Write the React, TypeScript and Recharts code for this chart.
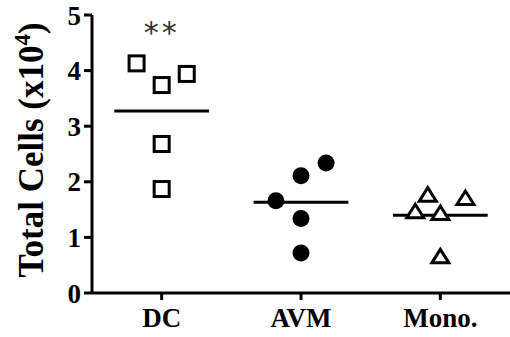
import React from 'react'
import { ScatterChart, Scatter, XAxis, YAxis, ReferenceLine, ReferenceDot, Label } from 'recharts';

const categories = ['DC', 'AVM', 'Mono.'];
const dcValues = [4.13, 3.74, 3.94, 2.68, 1.87];
const dcJitter = [-0.18, 0, 0.18, 0, 0];
const avmValues = [2.34, 2.11, 1.66, 1.34, 0.72];
const avmJitter = [0.18, 0, -0.18, 0, 0];
const monoValues = [1.76, 1.70, 1.46, 1.43, 0.65];
const monoJitter = [-0.09, 0.18, -0.18, 0, 0];
const yTicks = [0, 1, 2, 3, 4, 5];

const toPoints = (idx: number, values: number[], jitter: number[]) =>
    values.map((v, i) => ({ x: idx + 0.5 + jitter[i], y: v }));
const mean = (arr: number[]) => arr.reduce((a, b) => a + b, 0) / arr.length;

const dcData = toPoints(0, dcValues, dcJitter);
const avmData = toPoints(1, avmValues, avmJitter);
const monoData = toPoints(2, monoValues, monoJitter);
const groups = [dcValues, avmValues, monoValues];

const SERIF = 'Liberation Serif';

const Square = (p: any) => (
    <rect x={p.cx - 7.5} y={p.cy - 7.5} width={15} height={15} fill="#fff" stroke="#000" strokeWidth={3} />
);
const Dot = (p: any) => <circle cx={p.cx} cy={p.cy} r={8.5} fill="#000" />;
const Tri = (p: any) => (
    <path
        d={`M${p.cx},${p.cy - 7.5} L${p.cx + 8.5},${p.cy + 6} L${p.cx - 8.5},${p.cy + 6} Z`}
        fill="#fff" stroke="#000" strokeWidth={3} strokeLinejoin="miter"
    />
);
const Stars = (p: any) => (
    <text x={p.cx} y={p.cy} dy="0.6em" textAnchor="middle" fontFamily="DejaVu Sans"
        fontSize={30} letterSpacing={3} fill="#333">**</text>
);

const YLabel = (props: any) => {
    const vb = props.viewBox;
    const x = 43;
    const y = vb.y + vb.height / 2 - 4;
    return (
        <text x={x} y={y} transform={`rotate(-90, ${x}, ${y})`} textAnchor="middle"
            fontFamily={SERIF} fontWeight="bold" fontSize={35} fill="#000">
            Total Cells (x10<tspan dy={-13} fontSize={23}>4</tspan><tspan dy={13}>)</tspan>
        </text>
    );
};

const tickStyle = { fontFamily: SERIF, fontWeight: 'bold', fontSize: 27, fill: '#000' };

export default function App() {
    return (
        <div style={{ position: 'absolute', left: 0, top: 0, background: '#fff', fontFamily: SERIF }}>
            <ScatterChart width={510} height={337} margin={{ top: 15, right: 0, bottom: 0, left: 0 }}>
                <XAxis type="number" dataKey="x" domain={[0, 3]} ticks={[0.5, 1.5, 2.5]}
                    tickFormatter={(v: number) => categories[Math.floor(v)]}
                    height={44} stroke="#000" strokeWidth={3} tickSize={7} tickMargin={8}
                    tick={tickStyle} tickLine={{ stroke: '#000', strokeWidth: 3 }} />
                <YAxis type="number" dataKey="y" domain={[0, 5]} ticks={yTicks} width={92}
                    stroke="#000" strokeWidth={3} tickSize={8} tickMargin={3}
                    tick={tickStyle} tickLine={{ stroke: '#000', strokeWidth: 3 }}>
                    <Label content={YLabel} />
                </YAxis>
                {groups.map((g, i) => (
                    <ReferenceLine key={i} segment={[{ x: i + 0.5 - 0.34, y: mean(g) }, { x: i + 0.5 + 0.34, y: mean(g) }]}
                        stroke="#000" strokeWidth={3} />
                ))}
                <Scatter data={dcData} shape={Square} isAnimationActive={false} />
                <Scatter data={avmData} shape={Dot} isAnimationActive={false} />
                <Scatter data={monoData} shape={Tri} isAnimationActive={false} />
                <ReferenceDot x={0.5} y={4.82} r={0} shape={Stars} />
            </ScatterChart>
        </div>
    )
}
